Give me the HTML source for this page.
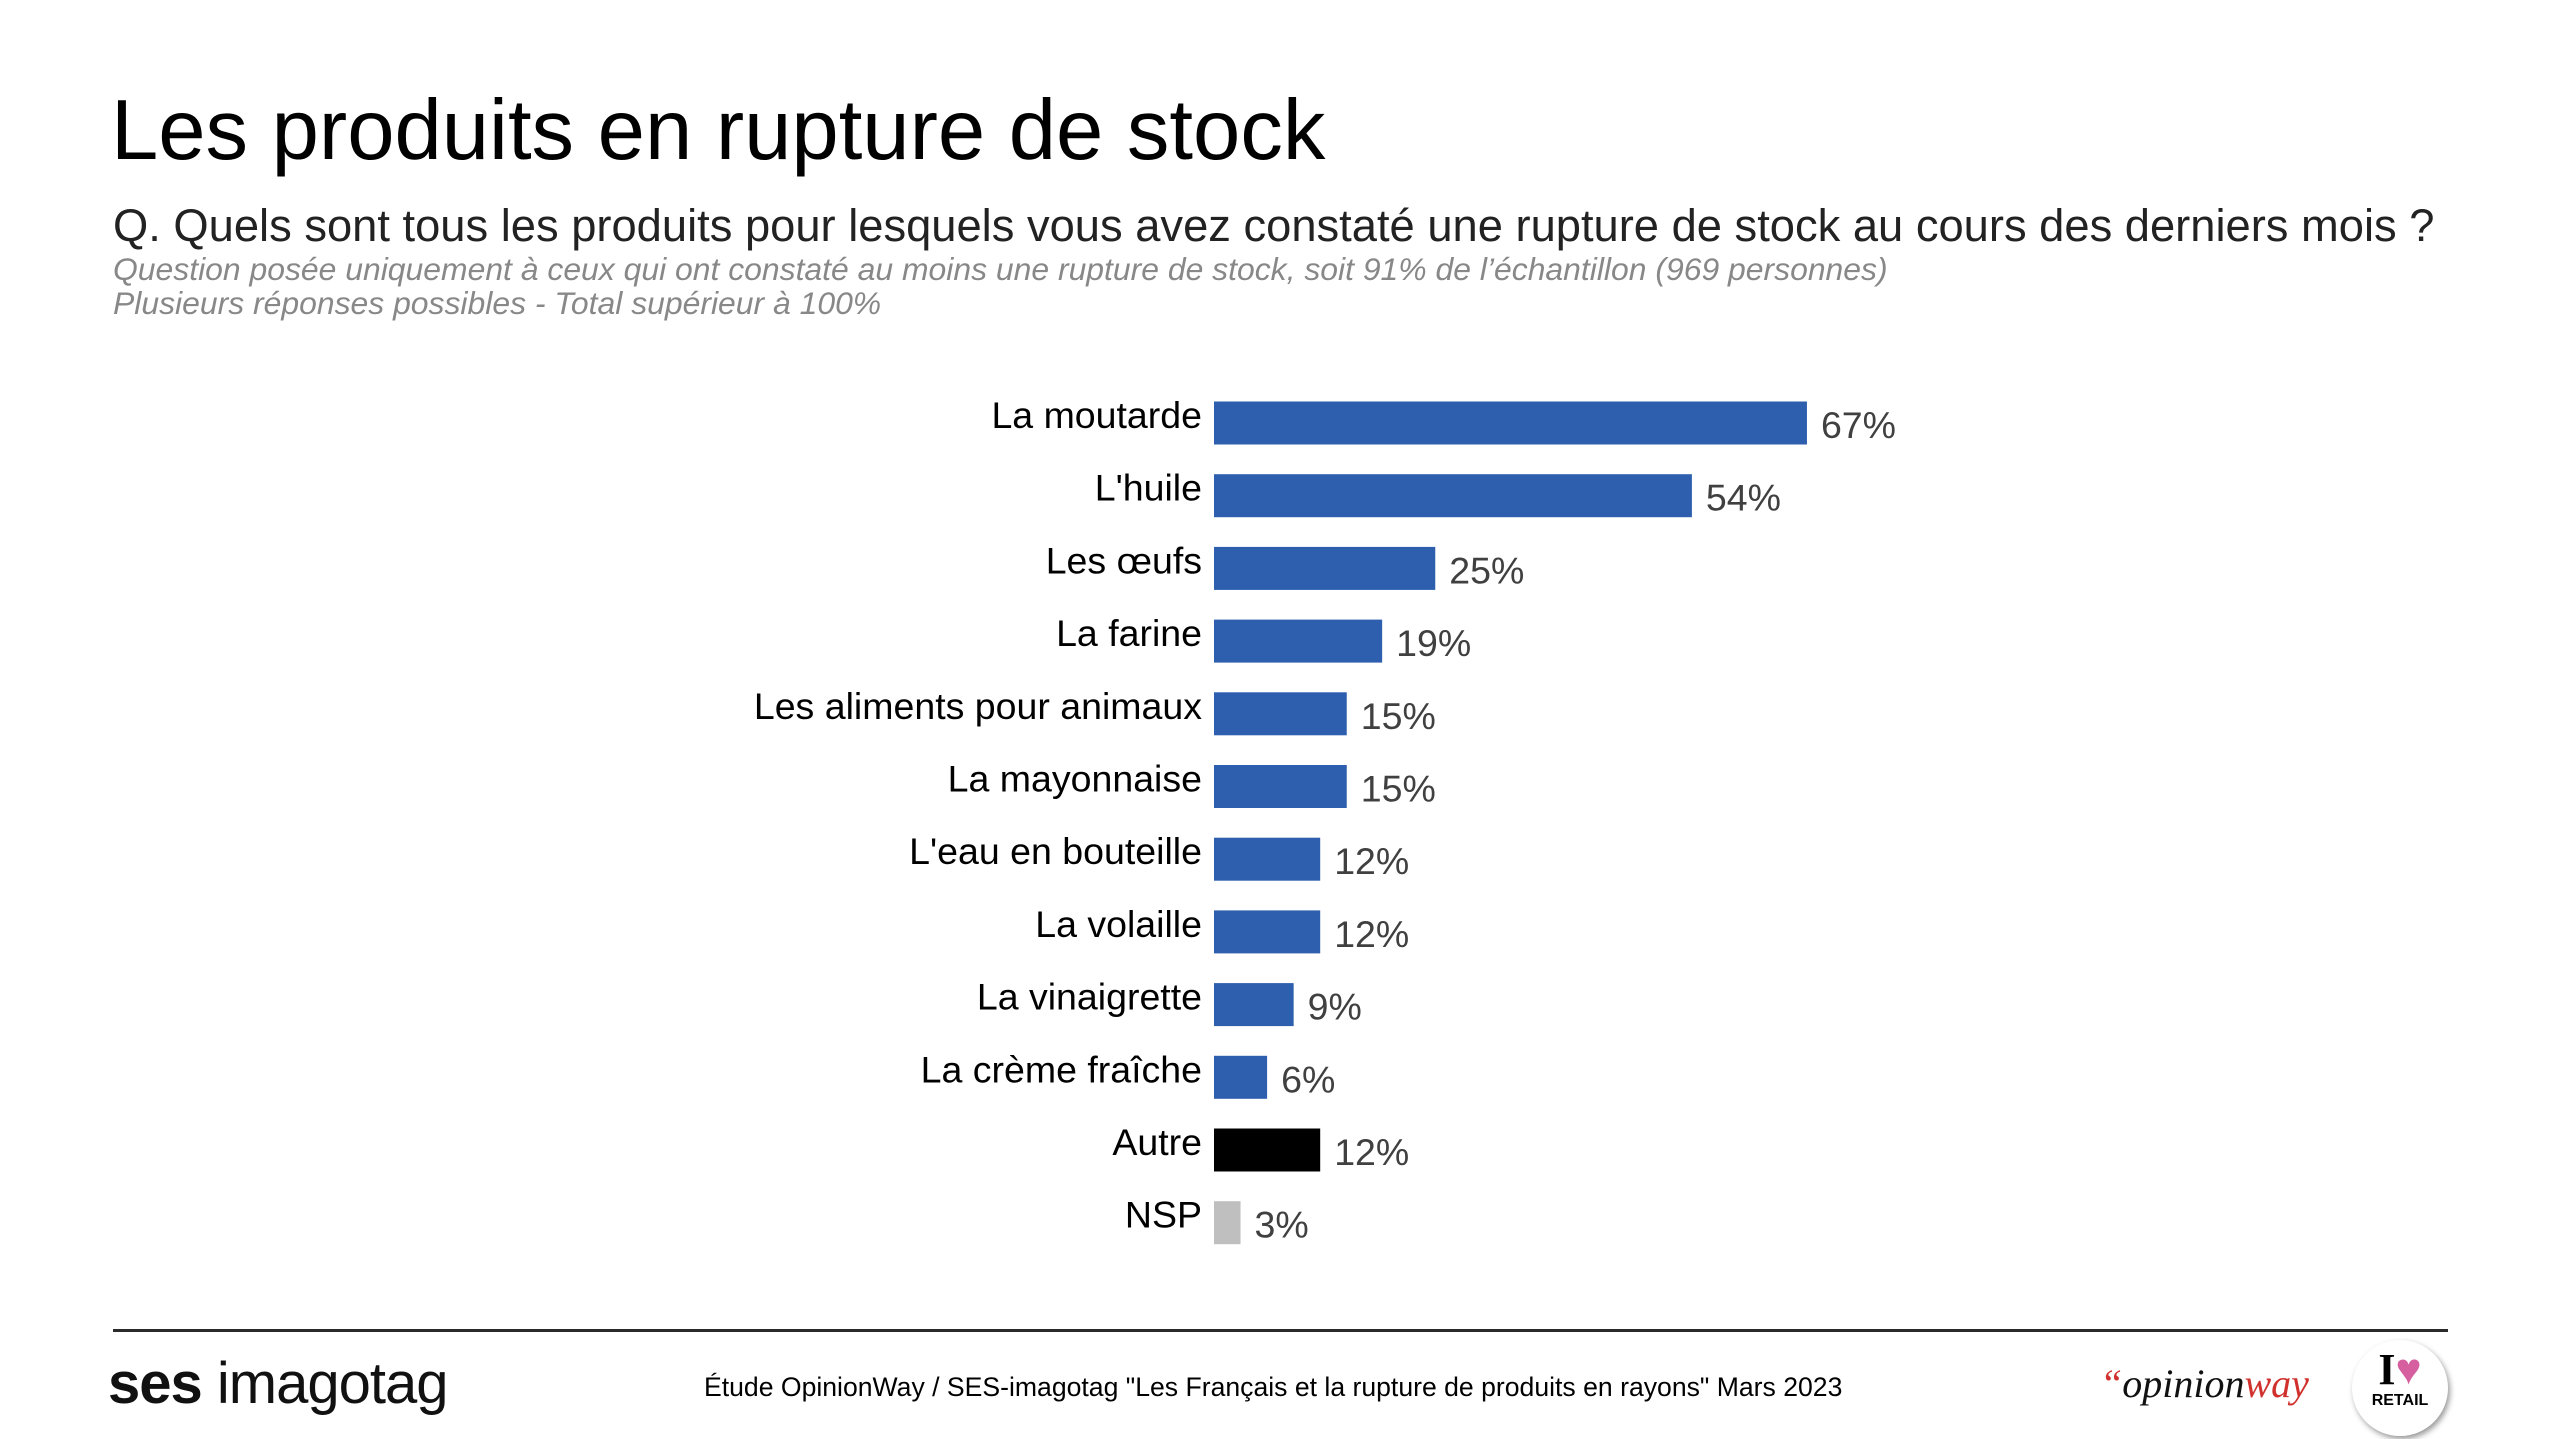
<!DOCTYPE html>
<html><head><meta charset="utf-8">
<style>
body{margin:0;width:2560px;height:1439px;background:#fff;overflow:hidden;font-family:"Liberation Sans",sans-serif;position:relative}
.abs{position:absolute;white-space:nowrap}
</style></head><body>
<div class="abs" style="left:111px;top:82px;font-size:85px;color:#000">Les produits en rupture de stock</div>
<div class="abs" style="left:113px;top:200px;font-size:45.3px;color:#222">Q. Quels sont tous les produits pour lesquels vous avez constaté une rupture de stock au cours des derniers mois ?</div>
<div class="abs" style="left:113px;top:251px;font-size:31.9px;font-style:italic;color:#888">Question posée uniquement à ceux qui ont constaté au moins une rupture de stock, soit 91% de l’échantillon (969 personnes)</div>
<div class="abs" style="left:113px;top:285px;font-size:31.9px;font-style:italic;color:#888">Plusieurs réponses possibles - Total supérieur à 100%</div>

<svg id="chart" width="2560" height="1439" style="position:absolute;left:0;top:0"></svg>

<div class="abs" style="left:113px;top:1329px;width:2335px;height:3px;background:#2b2b2b"></div>
<div class="abs" style="left:108px;top:1350px;font-size:58px;color:#111;letter-spacing:-1px"><b>ses</b> <span style="font-weight:300">imagotag</span></div>
<div class="abs" style="left:704px;top:1372px;font-size:26.6px;color:#000">Étude OpinionWay / SES-imagotag "Les Français et la rupture de produits en rayons" Mars 2023</div>
<div class="abs" style="left:2100px;top:1360px;font-size:40px;font-family:'Liberation Serif',serif;font-style:italic;color:#111"><span style="color:#d0312d">“</span>opinion<span style="color:#d0312d">way</span></div>
<div class="abs" style="left:2352px;top:1340px;width:96px;height:96px;border-radius:50%;background:#fff;box-shadow:2px 3px 6px #999;text-align:center">
 <div style="font-family:'Liberation Serif',serif;font-weight:bold;font-size:44px;line-height:44px;margin-top:8px">I<span style="color:#d65fa0">♥</span></div>
 <div style="font-size:16px;font-weight:bold">RETAIL</div>
</div>

<script>
const categories=["La moutarde","L'huile","Les œufs","La farine","Les aliments pour animaux","La mayonnaise","L'eau en bouteille","La volaille","La vinaigrette","La crème fraîche","Autre","NSP"];
const values=[67,54,25,19,15,15,12,12,9,6,12,3];
const valueLabels=["67%","54%","25%","19%","15%","15%","12%","12%","9%","6%","12%","3%"];
const colors=["#2e5eae","#2e5eae","#2e5eae","#2e5eae","#2e5eae","#2e5eae","#2e5eae","#2e5eae","#2e5eae","#2e5eae","#000000","#bfbfbf"];
const svg=document.getElementById('chart');
const NS='http://www.w3.org/2000/svg';
const x0=1214, pxPer=8.85, y0=423, step=72.7, bh=43;
const xs=v=>v*pxPer;
const yc=i=>y0+i*step;
categories.forEach((c,i)=>{
  const r=document.createElementNS(NS,'rect');
  r.setAttribute('x',x0);r.setAttribute('y',yc(i)-bh/2);
  r.setAttribute('width',xs(values[i]));r.setAttribute('height',bh);
  r.setAttribute('fill',colors[i]);
  
  
  svg.appendChild(r);
  const t=document.createElementNS(NS,'text');
  t.setAttribute('x',x0-12);t.setAttribute('y',yc(i)+5);
  t.setAttribute('text-anchor','end');t.setAttribute('font-size','37.5');
  t.setAttribute('font-family','Liberation Sans, sans-serif');t.setAttribute('fill','#000');
  t.textContent=c;
  
  
  svg.appendChild(t);
  const v=document.createElementNS(NS,'text');
  v.setAttribute('x',x0+xs(values[i])+14);v.setAttribute('y',yc(i)+15);
  v.setAttribute('font-size','37.5');
  v.setAttribute('font-family','Liberation Sans, sans-serif');v.setAttribute('fill','#404040');
  v.textContent=valueLabels[i];
  
  
  svg.appendChild(v);
});
</script>
</body></html>
